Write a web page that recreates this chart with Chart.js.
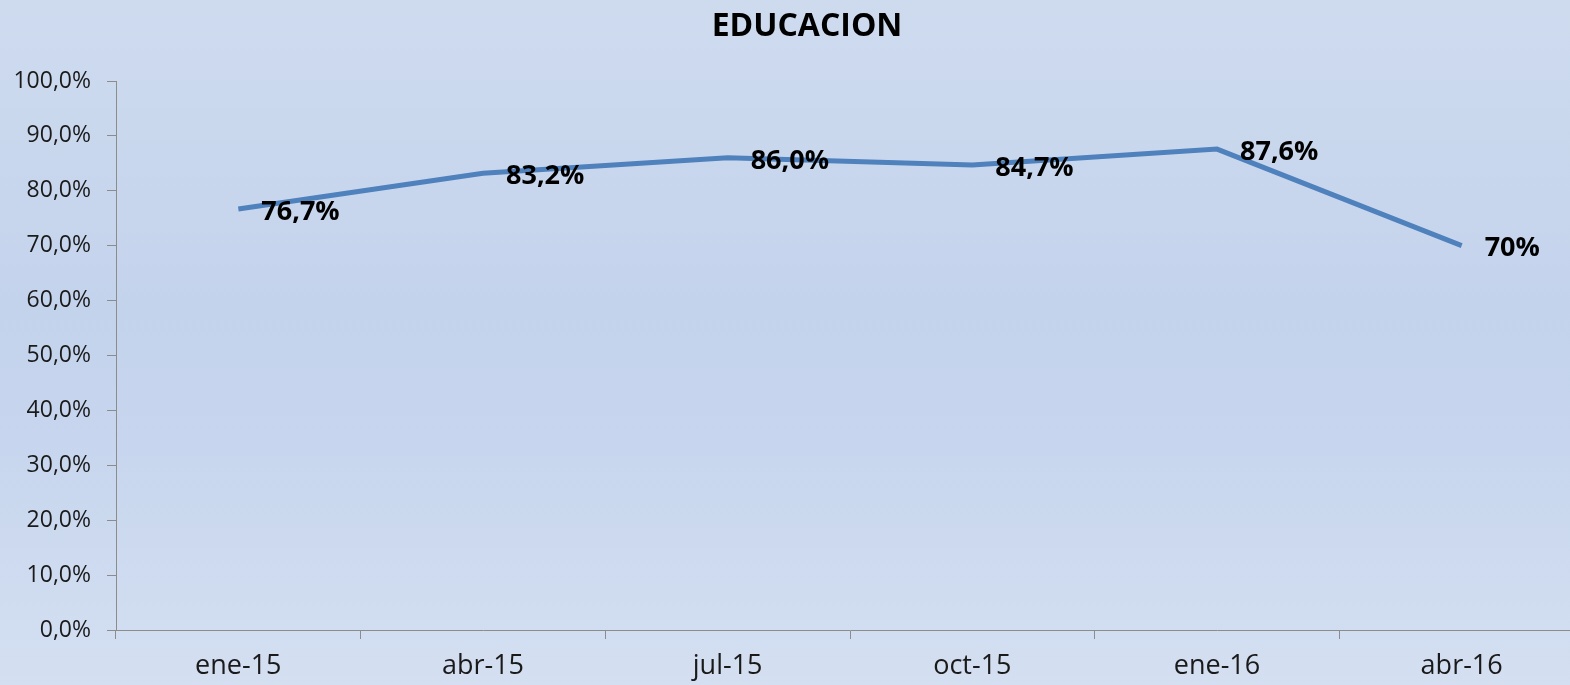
<!DOCTYPE html>
<html>
<head>
<meta charset="utf-8">
<script src="https://cdn.jsdelivr.net/npm/chart.js@4"></script>
<style>
  html, body { margin: 0; padding: 0; overflow: hidden; }
  body { width: 1570px; height: 685px;
    background: linear-gradient(to bottom, #cedbef 0%, #c4d3ec 45%, #c7d6ee 65%, #d4dff1 100%); }
  #wrap { position: absolute; left: 0; top: 0; width: 1600px; height: 685px; }
</style>
</head>
<body>
<div id="wrap"><canvas id="c" width="1600" height="685"></canvas></div>
<script>
const categories = ["ene-15", "abr-15", "jul-15", "oct-15", "ene-16", "abr-16"];
const values = [76.7, 83.2, 86.0, 84.7, 87.6, 70.0];
const valueLabels = ["76,7%", "83,2%", "86,0%", "84,7%", "87,6%", "70%"];
const yTicks = [0, 10, 20, 30, 40, 50, 60, 70, 80, 90, 100];
const titleText = "EDUCACION";

const FONT = '"Open Sans", "Noto Sans", sans-serif';

const labelPlugin = {
  id: 'valueLabels',
  afterDatasetsDraw(chart) {
    const ctx = chart.ctx;
    const meta = chart.getDatasetMeta(0);
    ctx.save();
    ctx.font = 'bold 27px ' + FONT;
    ctx.fillStyle = '#000000';
    ctx.textAlign = 'left';
    ctx.textBaseline = 'middle';
    meta.data.forEach((pt, i) => {
      ctx.fillText(valueLabels[i], pt.x + 23, pt.y + 3);
    });
    ctx.restore();
  },
  afterDraw(chart) {
    const ctx = chart.ctx;
    ctx.save();
    ctx.font = 'bold 32px ' + FONT;
    ctx.fillStyle = '#000000';
    ctx.textAlign = 'center';
    ctx.textBaseline = 'middle';
    ctx.fillText(titleText, 807, 27);
    ctx.restore();
  }
};

new Chart(document.getElementById('c'), {
  type: 'line',
  data: {
    labels: categories,
    datasets: [{
      data: values,
      borderColor: '#4f81bd',
      borderWidth: 5,
      pointRadius: 0,
      tension: 0,
      fill: false
    }]
  },
  options: {
    responsive: false,
    animation: false,
    layout: { padding: { left: 0, right: 16, top: 81, bottom: 0 } },
    plugins: {
      legend: { display: false },
      tooltip: { enabled: false },
      title: { display: false }
    },
    scales: {
      x: {
        offset: true,
        grid: { display: true, offset: true, drawOnChartArea: false, drawTicks: true, tickLength: 9, color: '#8c8c8c', lineWidth: 1 },
        border: { display: true, color: '#8c8c8c', width: 1 },
        ticks: { color: '#1a1a1a', font: { family: FONT, size: 27 }, padding: 11, maxRotation: 0 },
        afterFit(scale) { scale.height = 55; }
      },
      y: {
        min: 0, max: 100,
        afterBuildTicks(scale) { scale.ticks = yTicks.map(v => ({ value: v })); },
        grid: { display: true, drawOnChartArea: false, drawTicks: true, tickLength: 9, color: '#8c8c8c', lineWidth: 1 },
        border: { display: true, color: '#8c8c8c', width: 1 },
        ticks: {
          color: '#1a1a1a',
          font: { family: FONT, size: 23 },
          padding: 16,
          callback: (v) => v.toFixed(1).replace('.', ',') + '%'
        },
        afterFit(scale) { scale.width = 116; }
      }
    }
  },
  plugins: [labelPlugin]
});
</script>
</body>
</html>
